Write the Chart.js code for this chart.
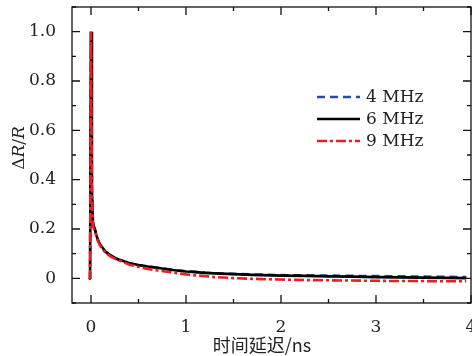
<!DOCTYPE html>
<html><head><meta charset="utf-8">
<script src="https://cdn.jsdelivr.net/npm/chart.js@4/dist/chart.umd.min.js"></script>
<style>html,body{margin:0;padding:0;background:#fff}</style>
</head><body>
<canvas id="c" width="472" height="356" style="width:472px;height:356px;display:block"></canvas>
<script>
const seriesNames = ['4 MHz', '6 MHz', '9 MHz'];
const timeNs = [-0.02, -0.01, 0, 0.01, 0.02, 0.03, 0.04, 0.06, 0.08, 0.1, 0.15, 0.2, 0.25, 0.3, 0.4, 0.5, 0.6, 0.7, 0.8, 0.9, 1.0, 1.1, 1.2, 1.3, 1.5, 1.7, 2.0, 2.25, 2.5, 2.75, 3.0, 3.25, 3.5, 3.75, 3.95];
const mhz4 = [-0.004, 0.0, 1.0, 0.34, 0.23, 0.21, 0.2, 0.168, 0.148, 0.132, 0.107, 0.092, 0.082, 0.073, 0.06, 0.053, 0.048, 0.043, 0.038, 0.033, 0.029, 0.026, 0.023, 0.021, 0.018, 0.016, 0.013, 0.012, 0.011, 0.01, 0.009, 0.008, 0.007, 0.006, 0.005];
const mhz6 = [-0.004, 0.0, 1.0, 0.35, 0.23, 0.21, 0.2, 0.17, 0.15, 0.135, 0.11, 0.095, 0.084, 0.075, 0.062, 0.054, 0.048, 0.043, 0.037, 0.032, 0.028, 0.025, 0.022, 0.02, 0.017, 0.014, 0.011, 0.01, 0.008, 0.007, 0.005, 0.004, 0.003, 0.002, 0.001];
const mhz9 = [-0.005, 0.0, 1.0, 0.33, 0.22, 0.2, 0.195, 0.165, 0.145, 0.13, 0.105, 0.09, 0.08, 0.072, 0.056, 0.046, 0.038, 0.032, 0.027, 0.021, 0.016, 0.012, 0.009, 0.005, 0.001, -0.002, -0.005, -0.007, -0.008, -0.009, -0.01, -0.011, -0.011, -0.012, -0.012];
const xTickValues = [0, 1, 2, 3, 4];
const xTickLabels = ['0', '1', '2', '3', '4'];
const yTickValues = [0, 0.2, 0.4, 0.6, 0.8, 1.0];
const yTickLabels = ['0', '0.2', '0.4', '0.6', '0.8', '1.0'];

const serif = "'DejaVu Serif', serif";
const colors = ['#2a4c9c', '#000000', '#ee1d23'];
const dashes = [[8, 5], [], [10, 3, 3, 3]];
const seriesData = [mhz4, mhz6, mhz9];

const datasets = seriesData.map((arr, i) => ({
  label: seriesNames[i],
  data: timeNs.map((t, k) => ({x: t, y: arr[k]})),
  borderColor: colors[i],
  borderDash: dashes[i],
  borderWidth: 2.6,
  pointRadius: 0,
  tension: 0,
  fill: false,
  order: 2 - i
}));

const decor = {
  id: 'decor',
  afterDraw(chart) {
    const {ctx, chartArea: a, scales: {x, y}} = chart;
    ctx.save();
    ctx.strokeStyle = '#111';
    ctx.lineWidth = 1.3;
    ctx.setLineDash([]);
    ctx.strokeRect(a.left, a.top, a.right - a.left, a.bottom - a.top);
    ctx.beginPath();
    for (let k = 0; k <= 8; k++) {
      const v = k * 0.5;
      const px = x.getPixelForValue(v);
      const len = k % 2 === 0 ? 8 : 4;
      ctx.moveTo(px, a.bottom); ctx.lineTo(px, a.bottom - len);
      ctx.moveTo(px, a.top); ctx.lineTo(px, a.top + len);
    }
    for (let k = -1; k <= 11; k++) {
      const v = k * 0.1;
      const py = y.getPixelForValue(v);
      const len = (k % 2 === 0) ? 8 : 4;
      ctx.moveTo(a.left, py); ctx.lineTo(a.left + len, py);
      ctx.moveTo(a.right, py); ctx.lineTo(a.right - len, py);
    }
    ctx.stroke();

    // legend
    ctx.font = '17px ' + serif;
    ctx.textBaseline = 'middle';
    ctx.fillStyle = '#222';
    const rows = [97, 119, 141];
    seriesNames.forEach((n, i) => {
      ctx.beginPath();
      ctx.strokeStyle = colors[i];
      ctx.lineWidth = 2.6;
      ctx.setLineDash(dashes[i]);
      ctx.moveTo(317, rows[i]); ctx.lineTo(360, rows[i]);
      ctx.stroke();
      ctx.setLineDash([]);
      ctx.fillText(n, 366, rows[i] + 1);
    });

    // x title
    ctx.textAlign = 'center';
    ctx.font = "18px 'Noto Sans CJK SC', serif";
    ctx.fillText('时间延迟/ns', 262, 345);

    // y title
    ctx.save();
    ctx.translate(20, 148);
    ctx.rotate(-Math.PI / 2);
    const parts = [['Δ', ''], ['R', 'italic '], ['/', ''], ['R', 'italic ']];
    let total = 0;
    parts.forEach(p => { ctx.font = p[1] + '17px ' + serif; total += ctx.measureText(p[0]).width; });
    let cx = -total / 2;
    ctx.textAlign = 'left';
    parts.forEach(p => { ctx.font = p[1] + '17px ' + serif; ctx.fillText(p[0], cx, 0); cx += ctx.measureText(p[0]).width; });
    ctx.restore();
    ctx.restore();
  }
};

new Chart(document.getElementById('c'), {
  type: 'line',
  data: {datasets},
  options: {
    responsive: false,
    animation: false,
    layout: {padding: {top: 7, right: 1, left: 0, bottom: 0}},
    plugins: {legend: {display: false}, tooltip: {enabled: false}},
    scales: {
      x: {
        type: 'linear', min: -0.2, max: 4.0,
        afterBuildTicks: s => { s.ticks = xTickValues.map(v => ({value: v})); },
        afterFit: s => { s.height = 53; s.paddingLeft = 0; s.paddingRight = 0; },
        grid: {display: false}, border: {display: false},
        ticks: {
          autoSkip: false, maxRotation: 0, padding: 6, color: '#222',
          font: {family: serif, size: 17},
          callback: (v, i) => xTickLabels[i]
        }
      },
      y: {
        type: 'linear', min: -0.1, max: 1.1,
        afterBuildTicks: s => { s.ticks = yTickValues.map(v => ({value: v})); },
        afterFit: s => { s.width = 72; s.paddingTop = 0; s.paddingBottom = 0; },
        grid: {display: false}, border: {display: false},
        ticks: {
          autoSkip: false, padding: 8, color: '#222',
          font: {family: serif, size: 17},
          callback: (v, i) => yTickLabels[i]
        }
      }
    }
  },
  plugins: [decor]
});
</script>
</body></html>
